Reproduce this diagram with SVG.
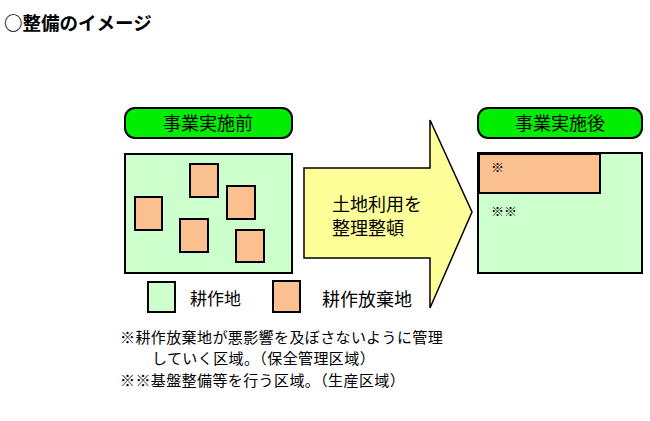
<svg xmlns="http://www.w3.org/2000/svg" width="650" height="421" viewBox="0 0 650 421">
<style>
text{font-family:"Noto Sans CJK JP","Liberation Sans",sans-serif;fill:#000}
.g{fill:#ccffcc;stroke:#000;stroke-width:2}
.o{fill:#fac090;stroke:#000;stroke-width:2}
.p{fill:#00ee00;stroke:#000;stroke-width:2}
</style>
<rect width="650" height="421" fill="#fff"/>
<text x="4" y="30" font-size="18.5" font-weight="bold">○整備のイメージ</text>
<g id="before-label"><rect class="p" x="125" y="108" width="167" height="30" rx="10"/><text x="208" y="130" font-size="18" text-anchor="middle">事業実施前</text></g>
<g id="before">
<rect class="g" x="125" y="154" width="167" height="119"/>
<rect class="o" x="135" y="197" width="27" height="33"/>
<rect class="o" x="190" y="164" width="28" height="33"/>
<rect class="o" x="227" y="186" width="28" height="33"/>
<rect class="o" x="180" y="219" width="28" height="33"/>
<rect class="o" x="236" y="230" width="28" height="32"/>
</g>
<g id="arrow"><path d="M304,168 H430 V120 L472,212 L430,308 V258 H304 Z" fill="#ffff99" stroke="#000" stroke-width="1.5"/>
<text x="332" y="211" font-size="18">土地利用を</text><text x="332" y="235" font-size="18">整理整頓</text></g>
<g id="after-label"><rect class="p" x="478" y="108" width="164" height="30" rx="10"/><text x="560" y="130" font-size="18" text-anchor="middle">事業実施後</text></g>
<g id="after">
<rect class="g" x="478" y="153" width="164" height="120"/>
<rect class="o" x="479" y="154" width="121" height="39"/>
<text x="491" y="172" font-size="13">※</text>
<text x="491" y="216" font-size="13">※※</text>
</g>
<g id="legend">
<rect class="g" x="148" y="282" width="27" height="30"/><text x="190" y="305" font-size="17">耕作地</text>
<rect class="o" x="273" y="281" width="27" height="31"/><text x="322" y="306" font-size="18">耕作放棄地</text>
</g>
<g id="notes">
<text x="120" y="343" font-size="15" letter-spacing="0.4">※耕作放棄地が悪影響を及ぼさないように管理</text>
<text x="152" y="364" font-size="15" letter-spacing="0.4">していく区域。（保全管理区域）</text>
<text x="120" y="386" font-size="15" letter-spacing="0.4">※※基盤整備等を行う区域。（生産区域）</text>
</g>
</svg>
